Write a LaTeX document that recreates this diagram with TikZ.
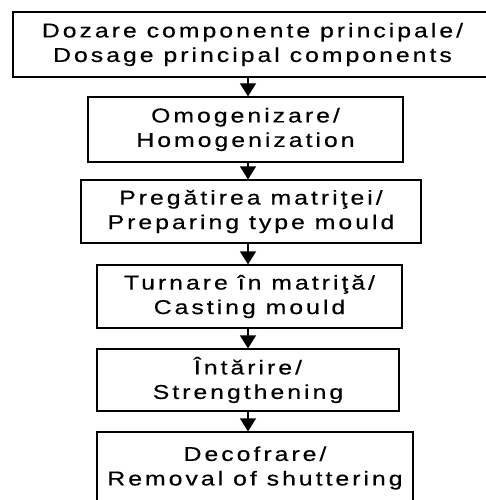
\documentclass[tikz,border=0pt]{standalone}
\usepackage{fontspec}
\setmainfont{Liberation Sans}[FakeStretch=1.24,LetterSpace=15,FakeBold=0.4]
\usetikzlibrary{arrows.meta}

\begin{document}
\begin{tikzpicture}[x=1pt,y=1pt,
  box/.style={draw,line width=1.2pt,align=center,inner sep=0pt,
    font=\fontsize{20}{24.5}\selectfont},
  flow/.style={line width=1.2pt,-{Triangle[width=16pt,length=13pt]}}]
\useasboundingbox (0,0) rectangle (485,-500);
\coordinate (axis) at (248,0);
\node[box,minimum width=479pt,minimum height=65pt] (dozare) at (252.5,-44.5) {Dozare componente principale/\\Dosage principal components};
\node[box,minimum width=315pt,minimum height=65pt] (omog) at (245.5,-129.5) {Omogenizare/\\Homogenization};
\node[box,minimum width=340pt,minimum height=63pt] (matrita) at (251,-211.5) {Pregătirea matriţei/\\Preparing type mould};
\node[box,minimum width=305pt,minimum height=63pt] (turnare) at (249.5,-296.5) {Turnare în matriţă/\\Casting mould};
\node[box,minimum width=302pt,minimum height=62pt] (intarire) at (248,-380) {Întărire/\\Strengthening};
\node[box,minimum width=316pt,minimum height=72pt] (decofrare) at (255,-468) {Decofrare/\\Removal of shuttering};
\draw[flow] (dozare.south -| axis) -- (omog.north -| axis);
\draw[flow] (omog.south -| axis) -- (matrita.north -| axis);
\draw[flow] (matrita.south -| axis) -- (turnare.north -| axis);
\draw[flow] (turnare.south -| axis) -- (intarire.north -| axis);
\draw[flow] (intarire.south -| axis) -- (decofrare.north -| axis);
\end{tikzpicture}
\end{document}
